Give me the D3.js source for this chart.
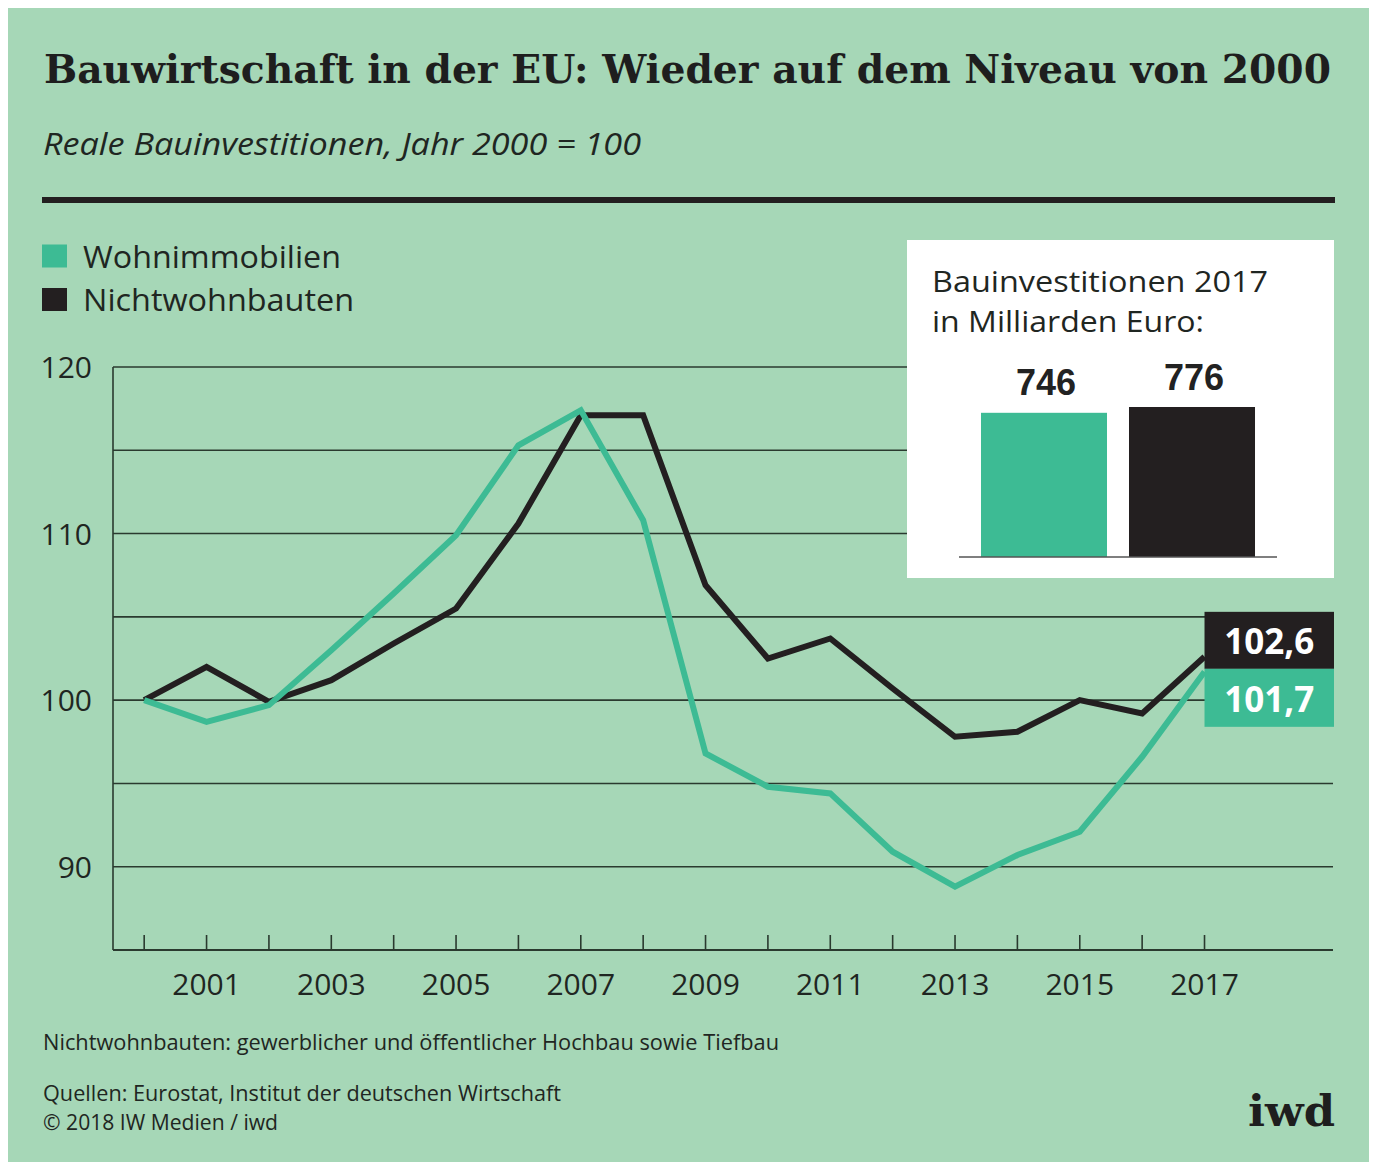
<!DOCTYPE html>
<html>
<head>
<meta charset="utf-8">
<script src="https://cdn.jsdelivr.net/npm/d3@7"></script>
<style>
  html, body { margin: 0; padding: 0; background: #ffffff; }
  svg { display: block; }
  text { font-family: "Open Sans", "Noto Sans", sans-serif; fill: #1f2622; }
</style>
</head>
<body>
<svg id="chart" width="1375" height="1164"></svg>
<script>
// ---------- data ----------
const years = [2000, 2001, 2002, 2003, 2004, 2005, 2006, 2007, 2008, 2009, 2010, 2011, 2012, 2013, 2014, 2015, 2016, 2017];
const wohnimmobilien = [100, 98.7, 99.7, 103.0, 106.4, 109.9, 115.3, 117.4, 110.8, 96.8, 94.8, 94.4, 90.9, 88.8, 90.7, 92.1, 96.6, 101.7];
const nichtwohnbauten = [100, 102.0, 99.9, 101.2, 103.4, 105.5, 110.6, 117.1, 117.1, 106.9, 102.5, 103.7, 100.7, 97.8, 98.1, 100.0, 99.2, 102.6];
const seriesNames = ["Wohnimmobilien", "Nichtwohnbauten"];
const yTicks = [90, 100, 110, 120];
const gridValues = [90, 95, 100, 105, 110, 115, 120];
const xLabelYears = [2001, 2003, 2005, 2007, 2009, 2011, 2013, 2015, 2017];
const endLabels = ["102,6", "101,7"];
const invest2017 = [746, 776];
const investLabels = ["746", "776"];

const title = "Bauwirtschaft in der EU: Wieder auf dem Niveau von 2000";
const subtitle = "Reale Bauinvestitionen, Jahr 2000 = 100";
const insetTitle = ["Bauinvestitionen 2017", "in Milliarden Euro:"];
const footnote = "Nichtwohnbauten: gewerblicher und öffentlicher Hochbau sowie Tiefbau";
const sources = ["Quellen: Eurostat, Institut der deutschen Wirtschaft", "© 2018 IW Medien / iwd"];

// ---------- styles ----------
const BG = "#a6d7b7";
const GREEN = "#3dbb94";
const BLACK = "#231f20";
const GRID = "#2a3a2f";

const svg = d3.select("#chart");

function fit(sel, w) {
  const n = sel.node();
  const len = n.getComputedTextLength();
  if (Math.abs(len - w) > 1) sel.attr("textLength", w).attr("lengthAdjust", "spacingAndGlyphs");
  return sel;
}

// background panel
svg.append("rect").attr("x", 8).attr("y", 8).attr("width", 1361).attr("height", 1154).attr("fill", BG);

// title
fit(svg.append("text").attr("x", 44).attr("y", 83)
  .style("font-family", "'DejaVu Serif', serif").style("font-weight", "bold").style("font-size", "40px")
  .style("fill", "#1e1e1e").text(title), 1287);

fit(svg.append("text").attr("x", 43).attr("y", 155)
  .style("font-style", "italic").style("font-size", "31px").text(subtitle), 598);

svg.append("rect").attr("x", 42).attr("y", 197).attr("width", 1293).attr("height", 6).attr("fill", BLACK);

// legend
const legColors = [GREEN, BLACK];
const legBase = [267.5, 311];
const legW = [258, 271];
seriesNames.forEach((s, i) => {
  svg.append("rect").attr("x", 42).attr("y", legBase[i] - 23).attr("width", 25).attr("height", 23).attr("fill", legColors[i]);
  fit(svg.append("text").attr("x", 83).attr("y", legBase[i]).style("font-size", "31px").text(s), legW[i]);
});

// scales
const x = d3.scaleLinear().domain([1999.5, 2019.06]).range([113, 1333]);
const y = d3.scaleLinear().domain([85, 120]).range([950, 367]);

// gridlines
svg.append("g").selectAll("line").data(gridValues).join("line")
  .attr("x1", x(1999.5)).attr("x2", x(2019.06))
  .attr("y1", d => y(d)).attr("y2", d => y(d))
  .attr("stroke", GRID).attr("stroke-width", 1.6);

// y axis line
svg.append("line").attr("x1", x(1999.5)).attr("x2", x(1999.5)).attr("y1", y(120)).attr("y2", y(85))
  .attr("stroke", GRID).attr("stroke-width", 1.6);
// x axis line
svg.append("line").attr("x1", x(1999.5)).attr("x2", x(2019.06)).attr("y1", y(85)).attr("y2", y(85))
  .attr("stroke", GRID).attr("stroke-width", 1.8);

// ticks
svg.append("g").selectAll("line").data(years).join("line")
  .attr("x1", d => x(d)).attr("x2", d => x(d))
  .attr("y1", y(85) - 15).attr("y2", y(85))
  .attr("stroke", GRID).attr("stroke-width", 1.6);

// y labels
svg.append("g").selectAll("text").data(yTicks).join("text")
  .attr("x", 92).attr("y", d => y(d) + 11).attr("text-anchor", "end")
  .style("font-size", "30px").text(d => d);

// x labels
svg.append("g").selectAll("text").data(xLabelYears).join("text")
  .attr("x", d => x(d)).attr("y", 995).attr("text-anchor", "middle")
  .style("font-size", "30px").text(d => d);

// inset box
svg.append("rect").attr("x", 907).attr("y", 240).attr("width", 427).attr("height", 338).attr("fill", "#ffffff");
fit(svg.append("text").attr("x", 932).attr("y", 291.5).style("font-size", "30px").text(insetTitle[0]), 336);
fit(svg.append("text").attr("x", 932).attr("y", 331.5).style("font-size", "30px").text(insetTitle[1]), 272);

const xb = d3.scaleBand().domain(seriesNames).range([959, 1277]).paddingInner(0.1486).paddingOuter(0.1486);
const yb = d3.scaleLinear().domain([0, 776]).range([557, 407]);
svg.append("g").selectAll("rect").data(seriesNames).join("rect")
  .attr("x", d => xb(d)).attr("width", xb.bandwidth())
  .attr("y", (d, i) => yb(invest2017[i])).attr("height", (d, i) => yb(0) - yb(invest2017[i]))
  .attr("fill", (d, i) => legColors[i]);
svg.append("line").attr("x1", 959).attr("x2", 1277).attr("y1", yb(0)).attr("y2", yb(0))
  .attr("stroke", "#555").attr("stroke-width", 1.5);
svg.append("g").selectAll("text").data(seriesNames).join("text")
  .attr("x", d => xb(d) + xb.bandwidth() / 2 + 2).attr("y", (d, i) => yb(invest2017[i]) - 17.5)
  .attr("text-anchor", "middle")
  .style("font-family", "'Liberation Sans', Arial, sans-serif").style("font-weight", "bold").style("font-size", "36px")
  .style("fill", "#222")
  .text((d, i) => investLabels[i]);

// lines
const line = d3.line().x((d, i) => x(years[i])).y(d => y(d));
svg.append("path").datum(nichtwohnbauten).attr("d", line)
  .attr("fill", "none").attr("stroke", BLACK).attr("stroke-width", 6).attr("stroke-linejoin", "miter");
svg.append("path").datum(wohnimmobilien).attr("d", line)
  .attr("fill", "none").attr("stroke", GREEN).attr("stroke-width", 6).attr("stroke-linejoin", "miter");

// end labels
const lastX = x(2017);
const boxW = x(2019.06) - lastX + 1;
const blackTop = y(nichtwohnbauten[17]) - 45;
svg.append("rect").attr("x", lastX).attr("y", blackTop).attr("width", boxW).attr("height", 57).attr("fill", BLACK);
svg.append("rect").attr("x", lastX).attr("y", blackTop + 57).attr("width", boxW).attr("height", 58).attr("fill", GREEN);
svg.append("text").attr("x", lastX + boxW / 2).attr("y", blackTop + 42).attr("text-anchor", "middle")
  .style("font-weight", "bold").style("font-size", "35px").style("fill", "#ffffff").text(endLabels[0]);
svg.append("text").attr("x", lastX + boxW / 2).attr("y", blackTop + 100).attr("text-anchor", "middle")
  .style("font-weight", "bold").style("font-size", "35px").style("fill", "#ffffff").text(endLabels[1]);

// footer
fit(svg.append("text").attr("x", 43).attr("y", 1050).style("font-size", "21px").text(footnote), 736);
fit(svg.append("text").attr("x", 43).attr("y", 1101).style("font-size", "21px").text(sources[0]), 518);
fit(svg.append("text").attr("x", 43).attr("y", 1130).style("font-size", "21px").text(sources[1]), 235);

fit(svg.append("text").attr("x", 1248).attr("y", 1126)
  .style("font-family", "'DejaVu Serif', serif").style("font-weight", "bold").style("font-size", "42px")
  .style("fill", "#1e1e1e").text("iwd"), 87);
</script>
</body>
</html>
